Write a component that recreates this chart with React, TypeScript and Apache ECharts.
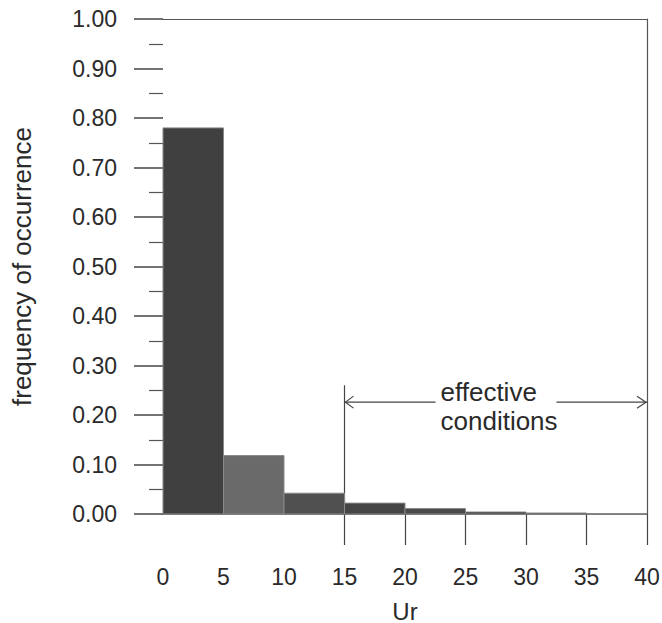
import React, { useEffect, useRef } from "react";
import * as echarts from "echarts";

// Histogram bins (Ur) and frequency of occurrence
const binStarts = [0, 5, 10, 15, 20, 25, 30, 35];
const binWidth = 5;
const frequencies = [0.78, 0.118, 0.042, 0.022, 0.011, 0.004, 0.002, 0.001];
const xTickValues = [15, 20, 25, 30, 35, 40];
const xLabelValues = [0, 5, 10, 15, 20, 25, 30, 35, 40];
const effectiveRange = [15, 40];
const annotationLines = ["effective", "conditions"];

const BAR_FILLS = ["#404040", "#6a6a6a", "#505050", "#454545", "#4a4a4a", "#333333", "#333333", "#333333"];
const FONT = "'Liberation Sans', Arial, sans-serif";
const INK = "#2a2a2a";

export default function App() {
  const ref = useRef<HTMLDivElement>(null);
  useEffect(() => {
    if (!ref.current) return;
    const chart = echarts.init(ref.current, undefined, { renderer: "svg" });
    const data = binStarts.map((s, i) => [s, s + binWidth, frequencies[i]]);
    chart.setOption({
      animation: false,
      backgroundColor: "#ffffff",
      grid: { left: 163, right: 15, top: 19, bottom: 109, containLabel: false, outerBoundsMode: "none" },
      xAxis: [
        {
          type: "value",
          min: 0,
          max: 40,
          interval: 5,
          position: "bottom",
          name: "Ur",
          nameLocation: "middle",
          nameGap: 85,
          nameTextStyle: { fontFamily: FONT, fontSize: 24, color: INK },
          axisLine: { show: true, onZero: false, lineStyle: { color: "#444", width: 1.5 } },
          axisTick: { show: true, inside: false, length: 31, customValues: xTickValues, lineStyle: { color: "#444", width: 1.2 } },
          axisLabel: { show: true, margin: 51, customValues: xLabelValues, fontFamily: FONT, fontSize: 23, color: INK },
          splitLine: { show: false },
        },
        {
          type: "value",
          min: 0,
          max: 40,
          position: "top",
          axisLine: { show: true, onZero: false, lineStyle: { color: "#555", width: 1.2 } },
          axisTick: { show: false },
          axisLabel: { show: false },
          splitLine: { show: false },
        },
      ],
      yAxis: [
        {
          type: "value",
          min: 0,
          max: 1,
          interval: 0.1,
          position: "left",
          name: "frequency of occurrence",
          nameLocation: "middle",
          nameGap: 128,
          nameTextStyle: { fontFamily: FONT, fontSize: 26, color: INK },
          axisLine: { show: false, onZero: false },
          axisTick: { show: true, inside: false, length: 29, lineStyle: { color: "#444", width: 1.5 } },
          minorTick: { show: true, splitNumber: 2, length: 14, lineStyle: { color: "#555", width: 1.2 } },
          axisLabel: { margin: 46, fontFamily: FONT, fontSize: 23, color: INK, formatter: (v: number) => v.toFixed(2) },
          splitLine: { show: false },
        },
        {
          type: "value",
          min: 0,
          max: 1,
          position: "right",
          axisLine: { show: true, onZero: false, lineStyle: { color: "#555", width: 1.2 } },
          axisTick: { show: false },
          axisLabel: { show: false },
          splitLine: { show: false },
        },
      ],
      series: [
        {
          type: "custom",
          xAxisIndex: 0,
          yAxisIndex: 0,
          data,
          renderItem: (params: any, api: any) => {
            const x0 = api.value(0);
            const x1 = api.value(1);
            const y = api.value(2);
            const p0 = api.coord([x0, y]);
            const p1 = api.coord([x1, 0]);
            return {
              type: "rect",
              shape: { x: p0[0], y: p0[1], width: p1[0] - p0[0], height: p1[1] - p0[1] },
              style: { fill: BAR_FILLS[params.dataIndex], stroke: "#888", lineWidth: 1 },
            };
          },
        },
      ],
    });

    // Annotation: bracket for the effective conditions range
    const arrowY = 0.226;
    const vTop = 0.26;
    const pL = chart.convertToPixel({ xAxisIndex: 0, yAxisIndex: 0 }, [effectiveRange[0], arrowY]) as number[];
    const pR = chart.convertToPixel({ xAxisIndex: 0, yAxisIndex: 0 }, [effectiveRange[1], arrowY]) as number[];
    const pVT = chart.convertToPixel({ xAxisIndex: 0, yAxisIndex: 0 }, [effectiveRange[0], vTop]) as number[];
    const pVB = chart.convertToPixel({ xAxisIndex: 0, yAxisIndex: 0 }, [effectiveRange[0], 0]) as number[];
    const textLeft = pL[0] + 96;
    const gapL = textLeft - 5;
    const gapR = textLeft + 116;
    const lineStyle = { stroke: "#444", lineWidth: 1.2 };
    chart.setOption({
      graphic: [
        { type: "line", shape: { x1: pVT[0], y1: pVT[1], x2: pVB[0], y2: pVB[1] }, style: lineStyle },
        { type: "line", shape: { x1: pL[0], y1: pL[1], x2: gapL, y2: pL[1] }, style: lineStyle },
        { type: "line", shape: { x1: gapR, y1: pR[1], x2: pR[0], y2: pR[1] }, style: lineStyle },
        { type: "polyline", shape: { points: [[pL[0] + 9, pL[1] - 6], [pL[0] + 1, pL[1]], [pL[0] + 9, pL[1] + 6]] }, style: { ...lineStyle, fill: "none" } },
        { type: "polyline", shape: { points: [[pR[0] - 10, pR[1] - 6], [pR[0] - 1, pR[1]], [pR[0] - 10, pR[1] + 6]] }, style: { ...lineStyle, fill: "none" } },
        {
          type: "text",
          x: textLeft,
          y: pL[1] - 10,
          style: { text: annotationLines[0], fontFamily: FONT, fontSize: 26, fill: INK, textAlign: "left", textVerticalAlign: "middle" },
        },
        {
          type: "text",
          x: textLeft,
          y: pL[1] + 19,
          style: { text: annotationLines[1], fontFamily: FONT, fontSize: 26, fill: INK, textAlign: "left", textVerticalAlign: "middle" },
        },
      ],
    });
    return () => chart.dispose();
  }, []);
  return <div ref={ref} style={{ width: 662, height: 623, position: "fixed", left: 0, top: 0 }} />;
}
